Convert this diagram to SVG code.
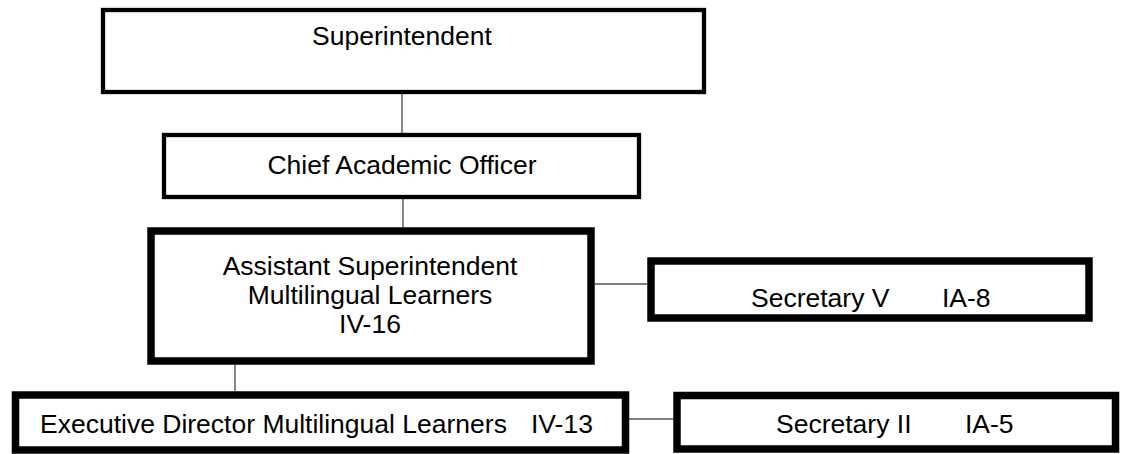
<svg xmlns="http://www.w3.org/2000/svg" width="1123" height="454" viewBox="0 0 1123 454">
<style>
.box{fill:#fff;stroke:#000}
.thin{stroke-width:4.3}
.thick{stroke-width:7.5}
.lbl{font-family:"Liberation Sans",Arial,sans-serif;font-size:26.5px;fill:#000}
.mid{text-anchor:middle}
.conn line{stroke:#555;stroke-width:1.4}
</style>
<rect width="1123" height="454" fill="#fff"/>
<g class="conn" id="connectors">
<line x1="402" y1="94" x2="402" y2="133"/>
<line x1="403" y1="199" x2="403" y2="227"/>
<line x1="595" y1="284" x2="647" y2="284"/>
<line x1="235" y1="365" x2="235" y2="391"/>
<line x1="629" y1="419" x2="673" y2="419"/>
</g>
<g id="superintendent">
<rect class="box thin" x="103" y="10" width="601" height="82"/>
<text class="lbl mid" x="402" y="45">Superintendent</text>
</g>
<g id="cao">
<rect class="box thin" x="164" y="135" width="475" height="62"/>
<text class="lbl mid" x="402" y="174">Chief Academic Officer</text>
</g>
<g id="asst-sup">
<rect class="box thick" x="151" y="231" width="440" height="130"/>
<text class="lbl mid" x="370" y="275">Assistant Superintendent</text>
<text class="lbl mid" x="370" y="304">Multilingual Learners</text>
<text class="lbl mid" x="370" y="333">IV-16</text>
</g>
<g id="secretary-v">
<rect class="box thick" x="651" y="261" width="438" height="57"/>
<text class="lbl" y="307"><tspan x="751">Secretary V</tspan><tspan x="942">IA-8</tspan></text>
</g>
<g id="exec-director">
<rect class="box thick" x="15.5" y="395" width="610" height="55"/>
<text class="lbl" y="433"><tspan x="40">Executive Director Multilingual Learners</tspan><tspan x="531">IV-13</tspan></text>
</g>
<g id="secretary-ii">
<rect class="box thick" x="677" y="395.5" width="438.5" height="53.5"/>
<text class="lbl" y="433"><tspan x="776">Secretary II</tspan><tspan x="965">IA-5</tspan></text>
</g>
</svg>
